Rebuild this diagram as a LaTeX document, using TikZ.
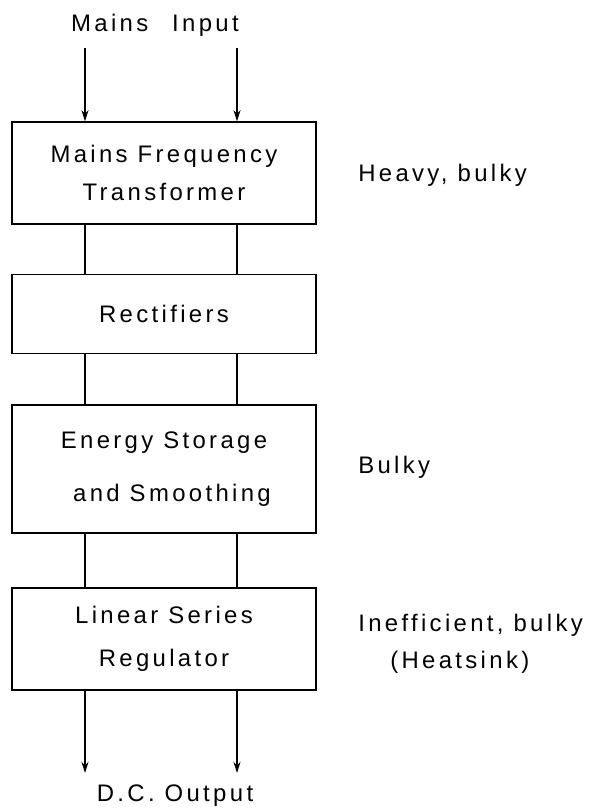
\documentclass[tikz,border=0pt]{standalone}
\usepackage{fontspec}
\setmainfont{Liberation Sans}[LetterSpace=14]
\usetikzlibrary{calc,arrows.meta}

\begin{document}
\begin{tikzpicture}[x=0.025cm, y=-0.025cm,
  blk/.style={draw, line width=0.9pt, minimum width=7.6cm, inner sep=0pt, align=center, font=\fontsize{17}{23}\selectfont},
  lbl/.style={font=\fontsize{17}{23}\selectfont, inner sep=0pt},
  wire/.style={line width=0.9pt},
  feed/.style={line width=0.9pt, -{Stealth[length=8pt, width=5pt]}}]
\useasboundingbox (0,0) rectangle (600,809);
\coordinate (L) at (85,0);
\coordinate (R) at (237,0);
\foreach \nm/\y/\h/\txt in {xfmr/173/102/{Mains Frequency\\[0.12cm]Transformer},
  rect/314/79/{Rectifiers},
  ess/469/128/{Energy Storage\\[0.5cm]\hspace{0.4cm}and Smoothing},
  reg/639/102/{Linear Series\\[0.28cm]Regulator}}{
\node[blk, minimum height=\h*0.025cm] (\nm) at (164,\y) {\txt};
}
\foreach \a/\b in {xfmr/rect, rect/ess, ess/reg}{
\foreach \c in {L,R}{
\draw[wire] (\a.south -| \c) -- (\b.north -| \c);
}}
\node[lbl] (mains) at (155,25) {Mains\quad Input};
\coordinate (inL) at (85,48);
\coordinate (inR) at (237,48);
\draw[feed] (inL) -- (xfmr.north -| inL);
\draw[feed] (inR) -- (xfmr.north -| inR);
\coordinate (outL) at (85,773);
\coordinate (outR) at (237,773);
\draw[feed] (reg.south -| outL) -- (outL);
\draw[feed] (reg.south -| outR) -- (outR);
\node[lbl] (dc) at (175,796) {D.C. Output};
\foreach \nm/\y/\txt in {heavy/175/{Heavy, bulky}, bulky/467/{Bulky}, ineff/625/{Inefficient, bulky}}{
\node[lbl, anchor=west] (\nm) at (358,\y) {\txt};
}
\node[lbl, anchor=west] (heat) at (390,662) {(Heatsink)};
\end{tikzpicture}
\end{document}
